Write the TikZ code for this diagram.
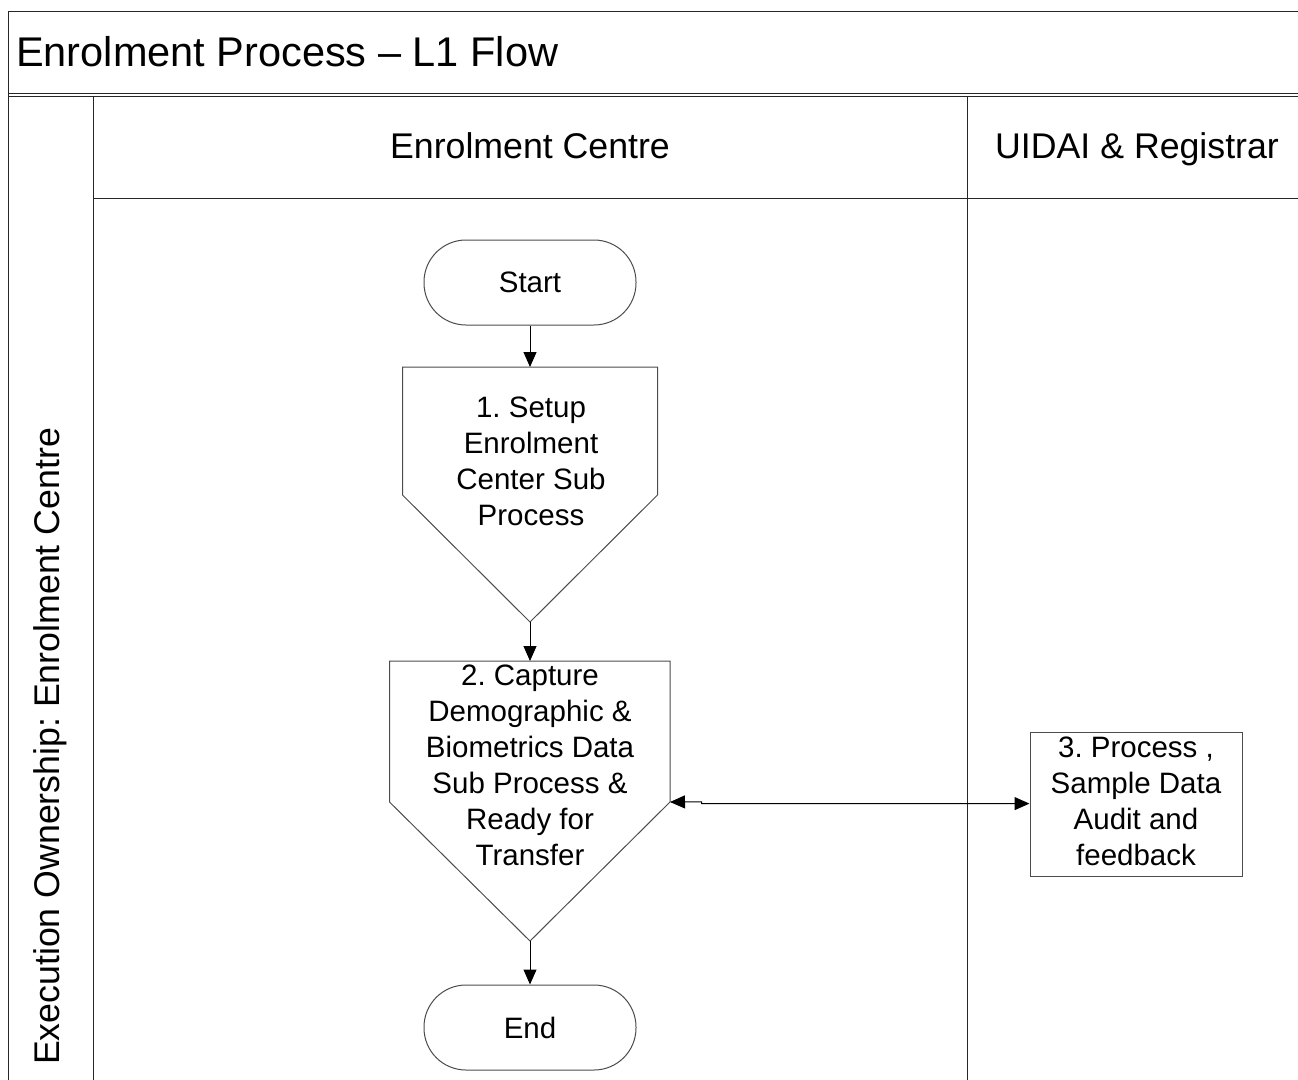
\documentclass[tikz,border=0pt]{standalone}
\usepackage{fontspec}
\setmainfont{Liberation Sans}
\frenchspacing
\usetikzlibrary{arrows.meta}
\tikzset{
  frameline/.style={line width=1.3pt, draw=black!85},
  shapeline/.style={line width=1pt, draw=black!70},
  nodetext/.style={font=\fontsize{29.5}{36}\selectfont, align=center, inner sep=0pt},
  terminal/.style={shapeline, rounded corners=42pt, minimum width=212pt, minimum height=85pt, font=\fontsize{29.5}{36}\selectfont},
  procbox/.style={shapeline, minimum width=212pt, minimum height=144pt, font=\fontsize{29.5}{36}\selectfont, align=center, inner sep=0pt},
  flow/.style={line width=1pt, -{Triangle[length=15pt,width=13pt]}},
  biflow/.style={line width=1pt, {Triangle[length=15pt,width=13pt]}-{Triangle[length=15pt,width=13pt]}},
  lanehead/.style={font=\fontsize{35.7}{40}\selectfont, inner sep=0pt}
}
\begin{document}
\begin{tikzpicture}[x=1pt,y=-1pt]
\useasboundingbox (0,0) rectangle (1298,1079);
% frame
\draw[frameline] (1310,11.5) -- (8.3,11.5) -- (8.3,1090);
\draw[frameline] (8.3,93.5) -- (1310,93.5);
\draw[frameline] (8.3,96.8) -- (1310,96.8);
\draw[frameline] (93.3,96.8) -- (93.3,1090);
\draw[frameline] (93.3,198.3) -- (1310,198.3);
\draw[frameline] (967.3,96.8) -- (967.3,1090);
% titles
\node[anchor=base west, inner sep=0pt, font=\fontsize{41.5}{46}\selectfont] (title) at (16,66) {Enrolment Process -- L1 Flow};
\node[lanehead, anchor=base] (lane1) at (530,158.5) {Enrolment Centre};
\node[lanehead, anchor=base] (lane2) at (1137,158.5) {UIDAI \& Registrar};
\node[lanehead, rotate=90] (owner) at (50,746.5) {Execution Ownership: Enrolment Centre};
% start
\node[terminal] (start) at (530,282.5) {Start};
% pentagon 1
\coordinate (p1top) at (530,367);
\coordinate (p1tip) at (530,622);
\draw[shapeline, fill=white] (402.5,367) -- (657.5,367) -- (657.5,495) -- (p1tip) -- (402.5,495) -- cycle;
\node[nodetext] (p1) at (531,461) {1. Setup\\Enrolment\\Center Sub\\Process};
% pentagon 2
\coordinate (p2top) at (530,661);
\coordinate (p2tip) at (530,941);
\coordinate (p2right) at (670,802);
\draw[shapeline, fill=white] (389.5,661) -- (670,661) -- (p2right) -- (p2tip) -- (389.5,802) -- cycle;
\node[nodetext] (p2) at (530,765) {2. Capture\\Demographic \&\\Biometrics Data\\Sub Process \&\\Ready for\\Transfer};
% end
\node[terminal] (end) at (530,1027.5) {End};
% box 3
\node[procbox] (p3) at (1136,804) {\raisebox{2pt}{\begin{tabular}{@{}c@{}}3. Process ,\\Sample Data\\Audit and\\feedback\end{tabular}}};
% connectors
\draw[flow] (start.south) -- (p1top);
\draw[flow] (p1tip) -- (p2top);
\draw[flow] (p2tip) -- (end.north);
\coordinate (jog1) at (701.5,803.6);
\coordinate (jog2) at (701.5,801.8);
\draw[biflow] (p3.west |- jog1) -- (jog1) -- (jog2) -- (p2right);
\end{tikzpicture}
\end{document}
